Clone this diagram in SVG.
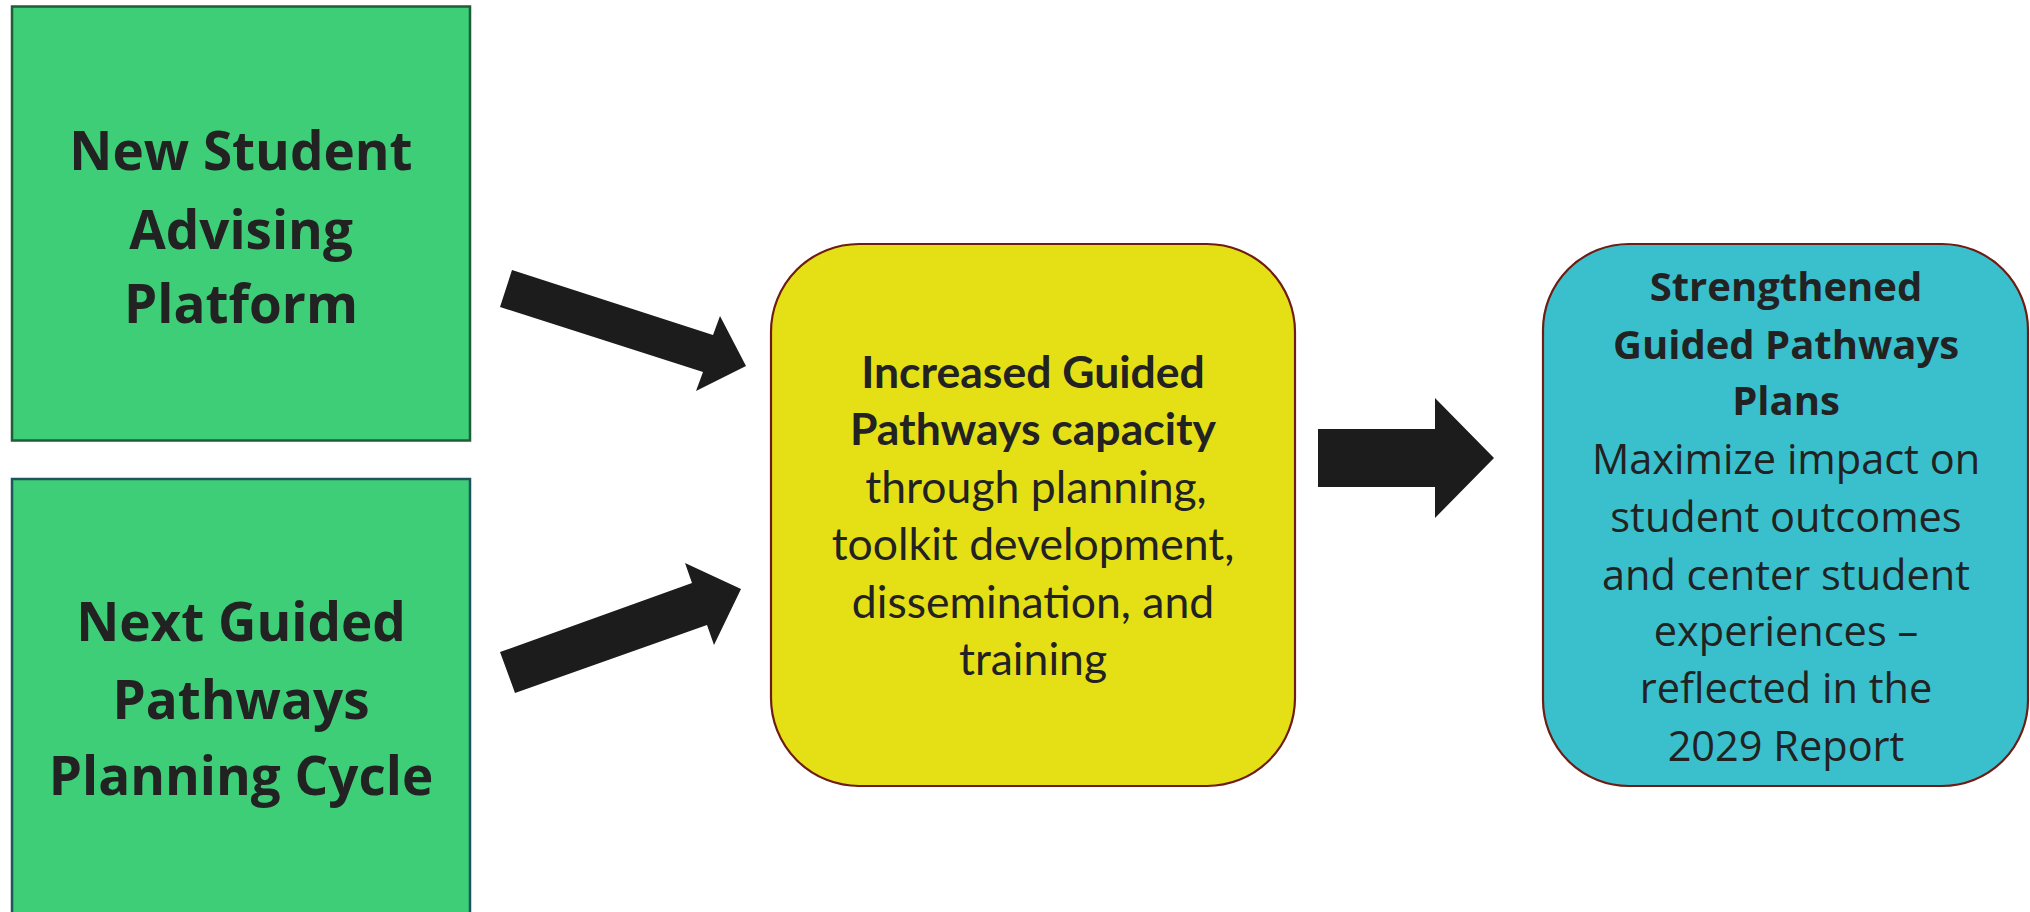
<svg xmlns="http://www.w3.org/2000/svg" width="2030" height="912" viewBox="0 0 2030 912">
<style>
.bg{fill:#ffffff}
.green{fill:#3dce77;stroke-width:2.5}
.yellow{fill:#e5e015;stroke:#6e1c14;stroke-width:2.2}
.cyan{fill:#3ac0cc;stroke:#6e1c14;stroke-width:2.2}
.arrow{fill:#1c1c1c}
.tl{font-family:"Open Sans","DejaVu Sans",sans-serif;font-weight:700;font-size:53px;fill:#222222;text-anchor:middle}
.tc{font-family:Lato,"Open Sans",sans-serif;font-size:44.5px;fill:#222222;text-anchor:middle}
.tr{font-family:"Open Sans","DejaVu Sans",sans-serif;font-size:41.5px;fill:#222222;text-anchor:middle}
.trb{font-family:"Open Sans","DejaVu Sans",sans-serif;font-size:40px;font-weight:700;fill:#222222;text-anchor:middle}
.b{font-weight:700}
</style>
<rect class="bg" x="0" y="0" width="2030" height="912"/>
<g id="connectors">
<polygon class="arrow" points="512,270 500,307 703,372 696,391 746,366 720,316 713,335"/>
<polygon class="arrow" points="500,652 515,693 707,625 714,645 741,589 685,563 692,583"/>
<polygon class="arrow" points="1318,429 1435,429 1435,398 1494,458 1435,518 1435,487 1318,487"/>
</g>
<g id="node-new-student">
<rect class="green" x="12" y="6.5" width="458" height="434" stroke="#1f5e38"/>
<text class="tl" x="241" y="170">New Student</text>
<text class="tl" x="241" y="249">Advising</text>
<text class="tl" x="241" y="323">Platform</text>
</g>
<g id="node-next-guided">
<rect class="green" x="12" y="479" width="458" height="450" stroke="#1f565c"/>
<text class="tl" x="241" y="641">Next Guided</text>
<text class="tl" x="241" y="719">Pathways</text>
<text class="tl" x="241" y="795">Planning Cycle</text>
</g>
<g id="node-increased">
<rect class="yellow" x="771" y="244" width="524" height="542" rx="88" ry="88"/>
<text class="tc b" x="1033" y="388">Increased Guided</text>
<text class="tc b" x="1033" y="445">Pathways capacity</text>
<text class="tc" x="1036" y="503">through planning,</text>
<text class="tc" x="1033" y="560">toolkit development,</text>
<text class="tc" x="1033" y="618">dissemination, and</text>
<text class="tc" x="1033" y="675">training</text>
</g>
<g id="node-strengthened">
<rect class="cyan" x="1543" y="244" width="485" height="542" rx="86" ry="86"/>
<text class="trb" x="1786" y="301">Strengthened</text>
<text class="trb" x="1786" y="359">Guided Pathways</text>
<text class="trb" x="1786" y="415">Plans</text>
<text class="tr" x="1786" y="474">Maximize impact on</text>
<text class="tr" x="1786" y="532">student outcomes</text>
<text class="tr" x="1786" y="590">and center student</text>
<text class="tr" x="1786" y="646">experiences –</text>
<text class="tr" x="1786" y="703">reflected in the</text>
<text class="tr" x="1786" y="761">2029 Report</text>
</g>
</svg>
